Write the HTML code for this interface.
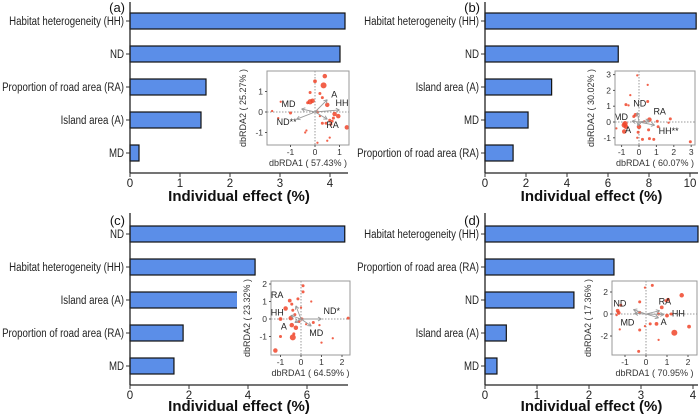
<!DOCTYPE html>
<html><head><meta charset="utf-8">
<style>
html,body{margin:0;padding:0;background:#fff;}
svg{display:block;font-family:"Liberation Sans",Arial,sans-serif;}
</style></head>
<body>
<svg id="chart" width="700" height="416" viewBox="0 0 700 416"></svg>
<script>
// Panel (a)
const catsA = ["Habitat heterogeneity (HH)","ND","Proportion of road area (RA)","Island area (A)","MD"];
const valsA = [4.3,4.2,1.52,1.42,0.18];
const ticksA = [0,1,2,3,4];
// Panel (b)
const catsB = ["Habitat heterogeneity (HH)","ND","Island area (A)","MD","Proportion of road area (RA)"];
const valsB = [10.3,6.5,3.25,2.1,1.37];
const ticksB = [0,2,4,6,8,10];
// Panel (c)
const catsC = ["ND","Habitat heterogeneity (HH)","Island area (A)","Proportion of road area (RA)","MD"];
const valsC = [7.28,4.24,3.9,1.8,1.49];
const ticksC = [0,2,4,6];
// Panel (d)
const catsD = ["Habitat heterogeneity (HH)","Proportion of road area (RA)","ND","Island area (A)","MD"];
const valsD = [4.1,2.48,1.71,0.41,0.23];
const ticksD = [0,1,2,3,4];

// Inset scatter points [x, y, size]
const ptsA = [[0.4,1.75,3],[0.0,1.5,2.5],[0.35,1.3,4],[-0.2,0.95,2],[0.2,0.9,2],[0.3,0.7,2],[-0.1,0.55,3],[-0.2,0.5,3.5],[-0.3,0.45,2],[0.5,0.35,3],[-1.4,0.5,1.5],[-1.75,0.05,1.5],[-1.0,-0.05,2],[0.1,0.0,2],[0.8,-0.1,3],[0.95,-0.2,3],[1.3,-0.75,3],[0.6,-0.4,2],[0.75,-0.3,2],[0.3,-0.55,2],[0.45,-0.55,2],[0.65,-0.6,2],[0.7,-0.45,2],[-1.5,-0.3,1.5],[-0.4,-1.0,1.5],[-0.35,-0.9,1.5],[0.1,-1.5,1.5],[0.5,-1.4,1.5],[0.6,-1.25,1.5],[0.2,-0.2,1.5]];
const ptsB = [[-0.1,2.95,1.5],[0.5,2.35,1.5],[-0.5,1.7,1.5],[0.5,1.3,2],[-0.75,1.1,2],[-0.6,1.05,1.5],[-0.2,0.45,2.5],[-0.3,0.35,2],[-0.8,-0.1,3.5],[-0.85,-0.2,3.5],[-0.75,-0.3,3],[-1.3,-0.4,1.5],[-0.85,-0.6,3],[0.0,-0.3,3],[-0.05,-0.65,2],[0.6,0.15,3],[1.05,0.05,2],[1.8,0.2,2],[1.7,-0.05,1.5],[0.55,-0.5,2],[1.1,-0.3,2],[0.6,-1.05,2],[0.85,-1.1,2],[0.2,-1.1,2],[2.95,-1.25,2],[-0.1,-1.0,1.5],[0.3,0.05,1.5]];
const ptsC = [[0.1,1.9,2],[0.1,1.55,2],[-0.15,1.15,2],[-0.55,1.05,2.5],[-0.45,0.85,2],[0.5,1.0,1.5],[-0.75,0.6,3],[-0.4,0.5,2],[0.0,0.65,1.5],[-0.3,0.25,2],[-0.5,0.05,3],[-1.0,0.0,2.5],[-0.1,-0.15,2],[0.05,0.0,2],[0.6,-0.2,2],[-0.45,-0.35,3],[-0.25,-0.5,3],[0.9,-0.35,1.5],[2.3,0.05,2],[-0.35,-0.85,2],[-0.4,-1.05,4],[-1.0,-1.0,2],[1.0,-1.35,1.5],[1.55,-1.1,1.5],[-1.25,-1.8,3],[0.25,-0.3,1.5]];
const ptsD = [[-0.05,2.4,1.5],[0.3,2.6,2],[1.7,1.7,3],[1.05,1.3,2.5],[0.95,1.2,2],[-0.3,1.1,2],[0.75,0.6,2.5],[-1.2,0.8,2],[-1.35,0.3,2.5],[-1.3,0.1,2.5],[-0.3,0.15,2],[0.6,0.0,2],[1.0,-0.15,2.5],[1.2,0.0,2],[0.5,-0.9,2.5],[0.2,-0.9,2],[-0.05,-1.1,1.5],[2.05,-1.15,2.5],[-1.25,-1.4,1.5],[-0.3,-1.45,2],[1.35,-1.7,4],[0.6,-2.35,1.5],[-0.35,-3.4,2],[-1.4,-0.1,1.5]];

// Arrows [x, y, label, labelDx, labelDy]
const arrA = [[0.5,0.6,"A",4,-2],[1.0,0.1,"HH*",-4,-4],[0.5,-0.35,"RA",-1,9],[-0.55,0.15,"MD",-20,-2],[-0.75,-0.35,"ND**",-20,6]];
const arrB = [[-0.1,0.6,"ND",-4,-6],[-0.4,0.05,"MD",-18,-1],[-0.05,-0.25,"A",-13,7],[0.6,0.1,"RA",4,-6],[0.9,-0.2,"HH**",4,9]];
const arrC = [[-0.25,0.75,"RA",-25,-8],[-0.5,0.2,"HH",-20,0],[-0.3,-0.2,"A",-14,7],[0.5,-0.4,"MD",-2,10],[1.0,0.0,"ND*",2,-5]];
const arrD = [[-0.6,0.4,"ND",-20,-3],[-0.55,0.05,"MD",-14,12],[0.65,0.3,"RA",-1,-6],[0.85,-0.05,"HH",8,2],[0.6,-0.35,"A",2,7]];
const axisTextA = ["dbRDA1 ( 57.43% )","dbRDA2 ( 25.27% )"];
const axisTextB = ["dbRDA1 ( 60.07% )","dbRDA2 ( 30.02% )"];
const axisTextC = ["dbRDA1 ( 64.59% )","dbRDA2 ( 23.32% )"];
const axisTextD = ["dbRDA1 ( 70.95% )","dbRDA2 ( 17.36% )"];
const xtA=[-1,0,1], ytA=[-1,0,1];
const xtB=[-1,0,1,2,3], ytB=[-1,0,1,2,3];
const xtC=[-1,0,1,2], ytC=[-1,0,1,2];
const xtD=[-1,0,1,2], ytD=[-2,0,2];

const NS="http://www.w3.org/2000/svg";
const svg=document.getElementById('chart');
function mk(tag,attrs,parent,text){const e=document.createElementNS(NS,tag);for(const k in attrs)e.setAttribute(k,attrs[k]);if(text!==undefined)e.textContent=text;(parent||svg).appendChild(e);return e;}
function squeeze(t,f){const w=t.getComputedTextLength();if(w>0){t.setAttribute('textLength',(w*f).toFixed(1));t.setAttribute('lengthAdjust','spacingAndGlyphs');}}

function barPanel(id,cats,vals,ticks,x0,ppu,top,axisTop,axisBottom,rightEdge,titleOff){
  const g=mk('g',{});
  
  
  const sx=v=>x0+v*ppu;
  const lab=mk('text',{x:x0-5,y:top+4,'text-anchor':'end','font-size':13,fill:'#111'},g,'('+id+')');
  
  
  cats.forEach((c,i)=>{
    const cy=top+13+i*33;
    const r=mk('rect',{x:x0,y:cy-8,width:Math.max(0,Math.min(sx(vals[i]),rightEdge)-x0),height:16,fill:'#5b8ee8',stroke:'#111','stroke-width':1.2},g);
    
    
    mk('line',{x1:x0-4,x2:x0,y1:cy,y2:cy,stroke:'#333'},g);
    const t=mk('text',{x:x0-6,y:cy+4,'text-anchor':'end','font-size':11.5,fill:'#222'},g,c);
    
    
    squeeze(t,0.84);
  });
  const ax=mk('line',{x1:x0,x2:x0,y1:axisTop,y2:axisBottom,stroke:'#222','stroke-width':1.3},g);
  
  
  const xa=mk('line',{x1:x0,x2:rightEdge,y1:axisBottom,y2:axisBottom,stroke:'#222','stroke-width':1.3},g);
  
  
  ticks.forEach(t=>{
    mk('line',{x1:sx(t),x2:sx(t),y1:axisBottom,y2:axisBottom+4,stroke:'#333'},g);
    const tt=mk('text',{x:sx(t),y:axisBottom+14,'text-anchor':'middle','font-size':11.5,fill:'#222'},g,t);
    
    
  });
  const ti=mk('text',{x:(x0+rightEdge)/2,y:axisBottom+titleOff,'text-anchor':'middle','font-size':15,'font-weight':'bold',fill:'#111'},g,'Individual effect (%)');
  
  
}

function inset(id,fx0,fy0,fx1,fy1,ox,oy,px,py,pts,arrs,xt,yt,atext){
  const g=mk('g',{});
  
  
  mk('rect',{x:fx0-34,y:fy0-4,width:fx1-fx0+37,height:fy1-fy0+28,fill:'#fff'},g);
  const cid='clip'+id;
  const cp=mk('clipPath',{id:cid},g);
  mk('rect',{x:fx0,y:fy0,width:fx1-fx0,height:fy1-fy0},cp);
  const sx=v=>ox+v*px, sy=v=>oy-v*py;
  const inner=mk('g',{'clip-path':'url(#'+cid+')'},g);
  mk('line',{x1:fx0,x2:fx1,y1:oy,y2:oy,stroke:'#999','stroke-dasharray':'1.5,1.5'},inner);
  mk('line',{x1:ox,x2:ox,y1:fy0,y2:fy1,stroke:'#999','stroke-dasharray':'1.5,1.5'},inner);
  pts.forEach(p=>{
    const c=mk('circle',{cx:sx(p[0]),cy:sy(p[1]),r:p[2]*0.75,fill:'#f0452a','fill-opacity':0.85},inner);
    
    
  });
  arrs.forEach(a=>{
    const x2=sx(a[0]),y2=sy(a[1]);
    const ang=Math.atan2(y2-oy,x2-ox);
    const l=mk('line',{x1:ox,y1:oy,x2:x2,y2:y2,stroke:'#999','stroke-width':0.9},inner);
    
    
    [0.5,-0.5].forEach(d=>mk('line',{x1:x2,y1:y2,x2:x2-4*Math.cos(ang+d),y2:y2-4*Math.sin(ang+d),stroke:'#999','stroke-width':0.9},inner));
    const t=mk('text',{x:x2+a[3],y:y2+a[4],'font-size':9,fill:'#222'},inner,a[2]);
    
    
  });
  mk('rect',{x:fx0,y:fy0,width:fx1-fx0,height:fy1-fy0,fill:'none',stroke:'#999','stroke-width':1},g);
  xt.forEach(t=>{const x=sx(t);if(x<fx0-1||x>fx1+1)return;
    mk('line',{x1:x,x2:x,y1:fy1,y2:fy1+2,stroke:'#555'},g);
    mk('text',{x:x,y:fy1+10,'text-anchor':'middle','font-size':8.5,fill:'#333'},g,t);});
  yt.forEach(t=>{const y=sy(t);if(y<fy0-1||y>fy1+1)return;
    mk('line',{x1:fx0-2,x2:fx0,y1:y,y2:y,stroke:'#555'},g);
    mk('text',{x:fx0-4,y:y+3,'text-anchor':'end','font-size':8.5,fill:'#333'},g,t);});
  const xl=mk('text',{x:(fx0+fx1)/2,y:fy1+21,'text-anchor':'middle','font-size':9,fill:'#333'},g,atext[0]);
  
  
  const cx=fx0-21,cy=(fy0+fy1)/2;
  const yl=mk('text',{x:cx,y:cy,'text-anchor':'middle','font-size':9,fill:'#333',transform:'rotate(-90 '+cx+' '+cy+')'},g,atext[1]);
  
  
}

barPanel('a',catsA,valsA,ticksA,130,50,8,2,173,348,28);
barPanel('b',catsB,valsB,ticksB,485,20.5,8,2,173,698,28);
barPanel('c',catsC,valsC,ticksC,130,29.5,221,213,385,348,26);
barPanel('d',catsD,valsD,ticksD,485,52,221,213,385,698,26);
inset('a',267,71,349,145,315,112,24.5,20.5,ptsA,arrA,xtA,ytA,axisTextA);
inset('b',615,71,695,145,639,122,17.4,15.8,ptsB,arrB,xtB,ytB,axisTextB);
inset('c',271,281,350,355,301,319,20.5,17.5,ptsC,arrC,xtC,ytC,axisTextC);
inset('d',612,281,697,355,646,314,21,11,ptsD,arrD,xtD,ytD,axisTextD);
</script>
</body></html>
